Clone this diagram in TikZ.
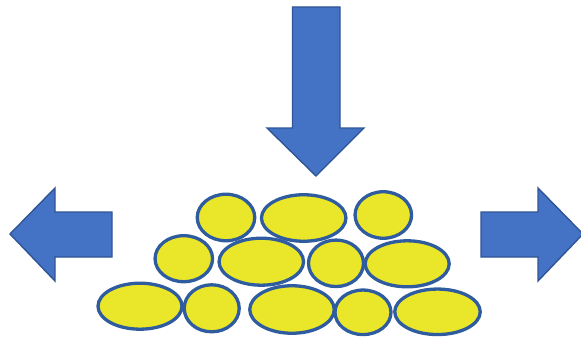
\documentclass[tikz,border=0pt]{standalone}
\usetikzlibrary{shapes.geometric}
\definecolor{arrowfill}{HTML}{4472C4}
\definecolor{arrowline}{HTML}{2F5597}
\definecolor{grainfill}{HTML}{EAE62A}
\definecolor{grainline}{HTML}{2E5C9E}
\tikzset{
  grain/.style={ellipse, draw=grainline, fill=grainfill, line width=3.3pt, inner sep=0pt},
  bigarrow/.style={draw=arrowline, fill=arrowfill, line width=1.4pt, line join=miter}
}
\begin{document}
\begin{tikzpicture}[x=1pt,y=-1pt]
\useasboundingbox (0,0) rectangle (581,337);
% down arrow
\draw[bigarrow] (292.5,7) -- (340,7) -- (340,128) -- (364,128) -- (316,176) -- (267,128) -- (292.5,128) -- cycle;
% left arrow
\draw[bigarrow] (112,212) -- (55,212) -- (55,188) -- (10,234) -- (55,281) -- (55,257) -- (112,257) -- cycle;
% right arrow
\draw[bigarrow] (481,212) -- (538,212) -- (538,188) -- (583,234) -- (538,281) -- (538,257) -- (481,257) -- cycle;
% grains
\node[grain, minimum width=57.5pt, minimum height=46.5pt] (e1) at (226,217.5) {};
\node[grain, minimum width=84.5pt, minimum height=46.5pt] (e2) at (303.7,218) {};
\node[grain, minimum width=56.5pt, minimum height=46.5pt] (e3) at (383.3,215) {};
\node[grain, minimum width=57.5pt, minimum height=46pt] (e4) at (183.8,258.7) {};
\node[grain, minimum width=84.5pt, minimum height=47pt] (e5) at (261.3,261.7) {};
\node[grain, minimum width=55pt, minimum height=46.5pt] (e6) at (336,263.3) {};
\node[grain, minimum width=84pt, minimum height=46pt] (e7) at (407.2,263.8) {};
\node[grain, minimum width=84pt, minimum height=46pt] (e8) at (140,306.2) {};
\node[grain, minimum width=55pt, minimum height=47pt] (e9) at (211.7,308.3) {};
\node[grain, minimum width=84.5pt, minimum height=47.5pt] (e10) at (292,309.5) {};
\node[grain, minimum width=56pt, minimum height=44.5pt] (e11) at (363,312.3) {};
\node[grain, minimum width=85.5pt, minimum height=45.5pt] (e12) at (437.5,311.8) {};
\end{tikzpicture}
\end{document}
